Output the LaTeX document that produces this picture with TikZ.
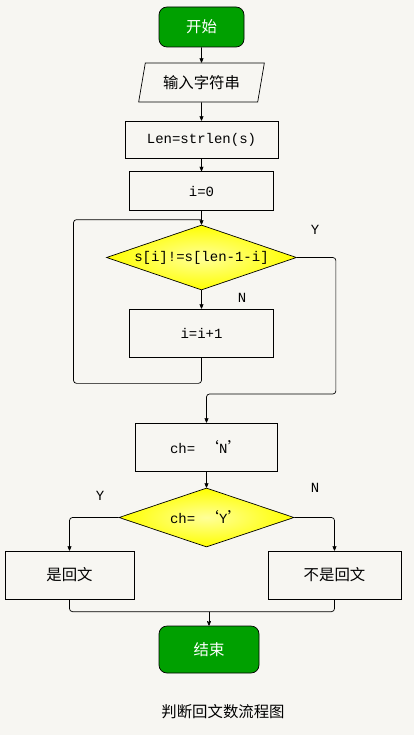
\documentclass[tikz,border=0pt]{standalone}
\usepackage{fontspec}
\setmainfont{Liberation Mono}
\newfontfamily\cjk[Scale=1.1]{Noto Sans CJK SC}
\usetikzlibrary{arrows,shapes.geometric}
\definecolor{startgreen}{RGB}{0,160,0}
\definecolor{paper}{RGB}{247,246,242}

\begin{document}
\begin{tikzpicture}[x=1pt,y=1pt,>=stealth',line width=0.7pt,
  font=\fontsize{14}{16}\selectfont,
  terminal/.style={draw,rounded corners=8pt,fill=startgreen,text=white,minimum width=85pt,minimum height=40pt},
  io/.style={draw,trapezium,trapezium left angle=74,trapezium right angle=106,trapezium stretches=true,minimum width=126pt,minimum height=39pt,inner sep=1pt},
  process/.style={draw,rectangle,minimum width=144pt,minimum height=39pt},
  decision/.style={draw,diamond,inner sep=0pt,inner color=yellow!40,outer color=yellow},
  conn/.style={->,rounded corners=3pt}]

\fill[paper] (0,0) rectangle (414,-735);
\useasboundingbox (0,0) rectangle (414,-735);

\node[terminal] (start) at (201.5,-27) {\cjk 开始};
\node[io] (input) [below of=start,node distance=55.5pt] {\cjk 输入字符串};
\node[process,minimum width=153pt,minimum height=37pt] (len) [below of=input,node distance=57pt] {Len=strlen(s)};
\node[process] (init) [below of=len,node distance=51.5pt] {i=0};
\node[decision,minimum width=190pt,minimum height=65pt,aspect=2.9] (cond) [below of=init,node distance=66.5pt] {s[i]!=s[len-1-i]};
\node[process,minimum height=48pt] (inc) [below of=cond,node distance=75.5pt] {i=i+1};
\node[process,minimum width=142pt,minimum height=48pt] (chN) [below of=inc,node distance=114pt,xshift=5pt] {ch= {\cjk ‘}N{\cjk ’}};
\node[decision,minimum width=175pt,minimum height=59pt,aspect=3] (chk) [below of=chN,node distance=70.5pt] {ch= {\cjk ‘}Y{\cjk ’}};
\node[process,minimum width=129pt,minimum height=48pt] (yes) [below of=chk,node distance=57.5pt,xshift=-137pt] {\cjk 是回文};
\node[process,minimum width=133pt,minimum height=48pt] (no) [below of=chk,node distance=57.5pt,xshift=128pt] {\cjk 不是回文};
\node[terminal,minimum width=100pt,minimum height=47pt] (end) [below of=chk,node distance=132pt,xshift=2.5pt] {\cjk 结束};
\node (title) [below of=end,node distance=62.5pt,xshift=14pt] {\cjk 判断回文数流程图};

% branch labels
\node (ycond) at (315,-230) {Y};
\node (ncond) at (242,-298) {N};
\node (ychk) at (100,-496) {Y};
\node (nchk) at (315,-488) {N};

\path (inc.south) ++(-128,-26) coordinate (back);
\path (cond.north) ++(0,5) coordinate (join);
\path (cond.east) ++(39,-136.5) coordinate (yturn);
\path (end.north) ++(0,14) coordinate (merge);

\path[->] (start) edge (input)
          (input) edge (len)
          (len)   edge (init)
          (init)  edge (cond)
          (cond)  edge (inc)
          (chN)   edge (chk)
          (merge) edge (end);

\draw[rounded corners=3pt] (inc.south) |- (back) |- (join);
\draw[conn] (cond.east) -| (yturn) -| (chN.north);
\draw[conn] (chk.west) -| (yes.north);
\draw[conn] (chk.east) -| (no.north);
\draw[rounded corners=3pt] (yes.south) |- (merge);
\draw[rounded corners=3pt] (no.south) |- (merge);

\end{tikzpicture}
\end{document}
